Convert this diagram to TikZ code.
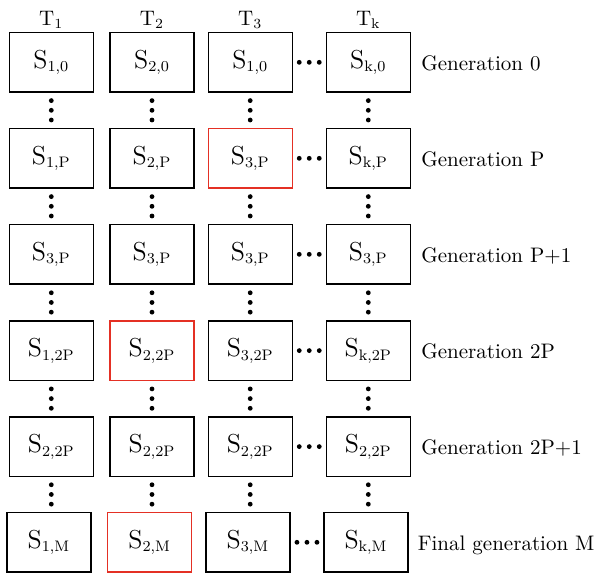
\documentclass[tikz,border=0pt]{standalone}
\usepackage{xcolor}
\usepackage{tikz}
\usetikzlibrary{calc}

\definecolor{hotred}{RGB}{228,48,36}
\newcommand{\sv}[2]{S$_{\mbox{\fontsize{7.6}{9}\selectfont #1,#2}}$}

\begin{document}
\begin{tikzpicture}[x=0.5pt,y=-0.5pt,
		box/.style={draw,line width=0.7pt,minimum width=42pt,minimum height=29.75pt,
			inner sep=0pt,font=\fontsize{13}{15}\selectfont},
		hot/.style={box,draw=hotred},
		gen/.style={anchor=base west,inner sep=0pt,font=\fontsize{10.5}{12.6}\selectfont},
		task/.style={anchor=base,inner sep=0pt,font=\fontsize{10.5}{12.6}\selectfont}]
		\useasboundingbox (0,0) rectangle (595,575);
		% tasks
		\node[task] (t1) at (51.3,25) {T$_1$};
		\node[task] (t2) at (152,25) {T$_2$};
		\node[task] (t3) at (250.2,25) {T$_3$};
		\node[task] (t4) at (368.3,25) {T$_{\mathrm{k}}$};
		% generation 0
		\node[box] (s11) at (51.3,62.3) {\sv{1}{0}};
		\node[box] (s21) at (152,62.3) {\sv{2}{0}};
		\node[box] (s31) at (250.2,62.3) {\sv{1}{0}};
		\node[box] (s41) at (368.3,62.3) {\sv{k}{0}};
		\node[gen] (g1) at (421,70.3) {Generation 0};
		% generation P
		\node[box] (s12) at (51.3,158.3) {\sv{1}{P}};
		\node[box] (s22) at (152,158.3) {\sv{2}{P}};
		\node[hot] (s32) at (250.2,158.3) {\sv{3}{P}};
		\node[box] (s42) at (368.3,158.3) {\sv{k}{P}};
		\node[gen] (g2) at (421,166.3) {Generation P};
		% generation P+1
		\node[box] (s13) at (51.3,254.3) {\sv{3}{P}};
		\node[box] (s23) at (152,254.3) {\sv{3}{P}};
		\node[box] (s33) at (250.2,254.3) {\sv{3}{P}};
		\node[box] (s43) at (368.3,254.3) {\sv{3}{P}};
		\node[gen] (g3) at (421,262.3) {Generation P+1};
		% generation 2P
		\node[box] (s14) at (51.3,350.6) {\sv{1}{2P}};
		\node[hot] (s24) at (152,350.6) {\sv{2}{2P}};
		\node[box] (s34) at (250.2,350.6) {\sv{3}{2P}};
		\node[box] (s44) at (368.3,350.6) {\sv{k}{2P}};
		\node[gen] (g4) at (421,358.6) {Generation 2P};
		% generation 2P+1
		\node[box] (s15) at (51.3,446.6) {\sv{2}{2P}};
		\node[box] (s25) at (152,446.6) {\sv{2}{2P}};
		\node[box] (s35) at (250.2,446.6) {\sv{2}{2P}};
		\node[box] (s45) at (368.3,446.6) {\sv{2}{2P}};
		\node[gen] (g5) at (421,454.6) {Generation 2P+1};
		% final generation
		\node[box] (s16) at (48.9,542.3) {\sv{1}{M}};
		\node[hot] (s26) at (149.7,542.3) {\sv{2}{M}};
		\node[box] (s36) at (247.9,542.3) {\sv{3}{M}};
		\node[box] (s46) at (366,542.3) {\sv{k}{M}};
		\node[gen] (g6) at (417.5,550.3) {Final generation M};
		% vertical dots
		\foreach \c in {1,...,4} {
			\foreach \r [evaluate=\r as \n using int(\r+1)] in {1,...,5} {
				\coordinate (mid) at ($(s\c\r.south)!0.5!(s\c\n.north)$);
				\coordinate (m) at (s\c1 |- mid);
				\foreach \dy in {-9.7,0,9.7}
					\fill ($(m)+(0,\dy)$) circle (1.2pt);
			}
		}
		% horizontal dots
		\foreach \r in {1,...,6} {
			\coordinate (m) at ($(s3\r.east)!0.5!(s4\r.west)$);
			\foreach \dx in {-10,0,10}
				\fill ($(m)+(\dx,0)$) circle (1.2pt);
		}
	\end{tikzpicture}
\end{document}
